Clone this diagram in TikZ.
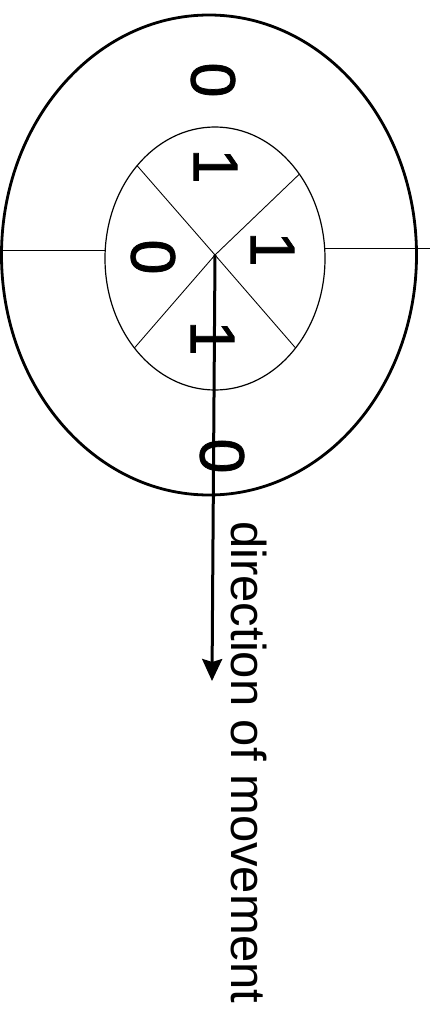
\documentclass[tikz,border=0pt]{standalone}
\usepackage{fontspec}
\setmainfont{Liberation Sans}
\newfontfamily\digitfont[FakeBold=1.2]{Liberation Sans}
\usetikzlibrary{arrows.meta,shapes.geometric}

\begin{document}
\begin{tikzpicture}[
  x=1pt,
  y=-1pt,
  >={Stealth[length=22pt,width=20pt,inset=3pt]},
  ring/.style={
    draw,
    ellipse,
    inner sep=0pt,
    outer sep=0pt
  },
  digit/.style={
    rotate=-90,
    inner sep=0pt,
    font=\digitfont\fontsize{63}{63}\selectfont
  },
  spoke/.style={line width=0.9pt},
  arrow/.style={->, line width=3pt}
]
\useasboundingbox (0,0) rectangle (433,1009);

\node[ring, line width=2.8pt, minimum width=415pt, minimum height=480pt] (outer) at (209,255) {};

\node[ring, line width=1.2pt, minimum width=220pt, minimum height=263pt] (inner) at (215,258.5) {};

\coordinate (hub) at (215,255);
\coordinate (leftend) at (0,250);
\coordinate (rightend) at (430,248);
\coordinate (tip) at (212,681);

\draw[spoke] (leftend) -- (leftend -| inner.west);
\draw[spoke] (rightend -| inner.east) -- (rightend);

\foreach \a in {45,130,228,312}
  \draw[spoke] (hub) -- (inner.\a);

\node[digit] (outertop) at (213,80) {0};
\node[digit] (innertop) at (215.5,166) {1};
\node[digit] (innerright) at (272.5,249) {1};
\node[digit] (innerleft) at (153,257) {0};
\node[digit] (innerbottom) at (212.5,338) {1};
\node[digit] (outerbottom) at (222,456) {0};

\draw[arrow] (hub) -- (tip);

\node[rotate=-90, anchor=base west, inner sep=0pt, font=\fontsize{49}{49}\selectfont] (label) at (231,521) {direction of movement};

\end{tikzpicture}
\end{document}
